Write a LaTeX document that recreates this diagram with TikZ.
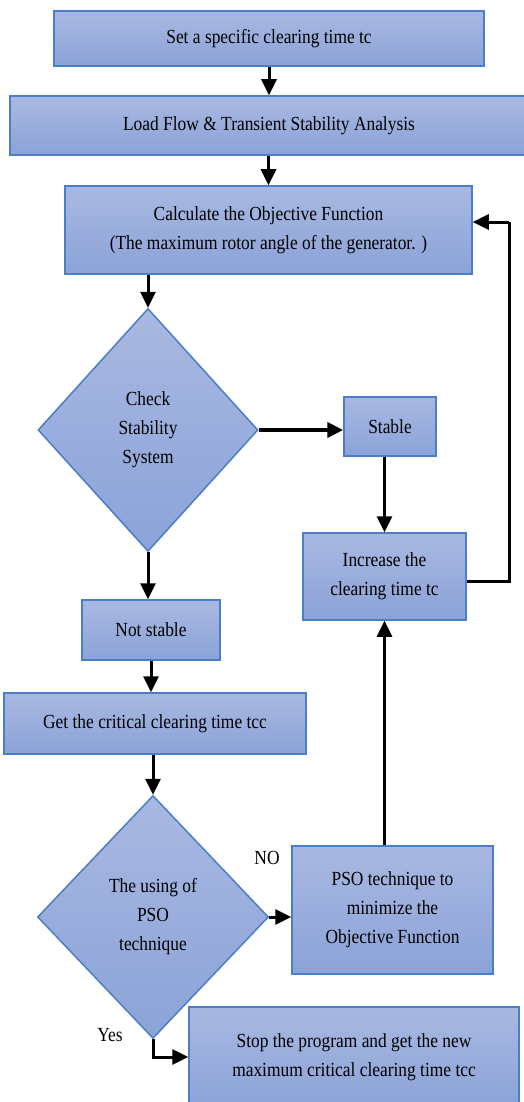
\documentclass[tikz,border=0pt]{standalone}
\usepackage{fontspec}
\setmainfont[FakeStretch=0.87]{Liberation Serif}
\usepackage{tikz}
\usetikzlibrary{arrows.meta, shapes.geometric}
\definecolor{colorT}{HTML}{A9B8E1}
\definecolor{colorB}{HTML}{8BA3D8}
\definecolor{colorE}{HTML}{4A7EC6}

\tikzset{
  box/.style={draw=colorE, line width=1.5pt, top color=colorT, bottom color=colorB, align=center, inner sep=0pt},
  dec/.style={box, diamond, aspect=0.9},
  arr/.style={line width=3pt, -{Triangle[length=16pt,width=15pt]}},
}

\begin{document}
\begin{tikzpicture}[x=1pt,y=-1pt,font=\fontsize{20}{29}\selectfont]
        \useasboundingbox (0,0) rectangle (524,1102);
        \node[box, minimum width=430pt, minimum height=55pt] (set) at (269,38.5) {Set a specific clearing time tc};
        \node[box, minimum width=518pt, minimum height=59pt] (load) at (269,125.5) {Load Flow \& Transient Stability Analysis};
        \node[box, minimum width=407pt, minimum height=88pt] (calc) at (268.5,230) {Calculate the Objective Function\\(The maximum rotor angle of the generator. )};
        \node[dec, minimum width=220pt, minimum height=243pt] (check) at (148,430) {Check\\Stability\\System};
        \node[box, minimum width=92pt, minimum height=59pt] (stable) at (390,426.5) {Stable};
        \node[box, minimum width=163pt, minimum height=87pt] (inc) at (384.5,576.5) {Increase the\\clearing time tc};
        \node[box, minimum width=138pt, minimum height=60pt] (nstable) at (151,630) {Not stable};
        \node[box, minimum width=302pt, minimum height=61pt] (get) at (155,723.5) {Get the critical clearing time tcc};
        \node[dec, minimum width=231pt, minimum height=243pt] (pso check) at (153,917) {The using of\\PSO\\technique};
        \node[box, minimum width=201pt, minimum height=128pt] (pso) at (392.5,910) {PSO technique to\\minimize the\\Objective Function};
        \node[box, minimum width=330pt, minimum height=100pt] (stop) at (354,1057) {Stop the program and get the new\\maximum critical clearing time tcc};
        \node (no) at (267,858) {NO};
        \node (yes) at (110,1035) {Yes};
        \coordinate (fb) at (509,222);

        \draw[arr] (set) -- (load);
        \draw[arr] (load.south -| calc) -- (calc);
        \draw[arr] (calc.south -| check) -- (check);
        \draw[arr, line width=4pt] (check.east) -- (check.east -| stable.west);
        \draw[arr] (inc.north |- stable.south) -- (inc);
        \draw[line width=3pt] ([yshift=-5pt]inc.east) -| (fb);
        \draw[arr] (fb) -- (fb -| calc.east);
        \draw[arr] (check.south) -- (check.south |- nstable.north);
        \draw[arr] (nstable) -- (nstable |- get.north);
        \draw[arr] (get.south -| pso check) -- (pso check);
        \draw[arr] (pso check) -- (pso check -| pso.west);
        \draw[arr] (inc.south |- pso.north) -- (inc);
        \draw[arr] (pso check.south) |- (stop.west);
    \end{tikzpicture}
\end{document}
